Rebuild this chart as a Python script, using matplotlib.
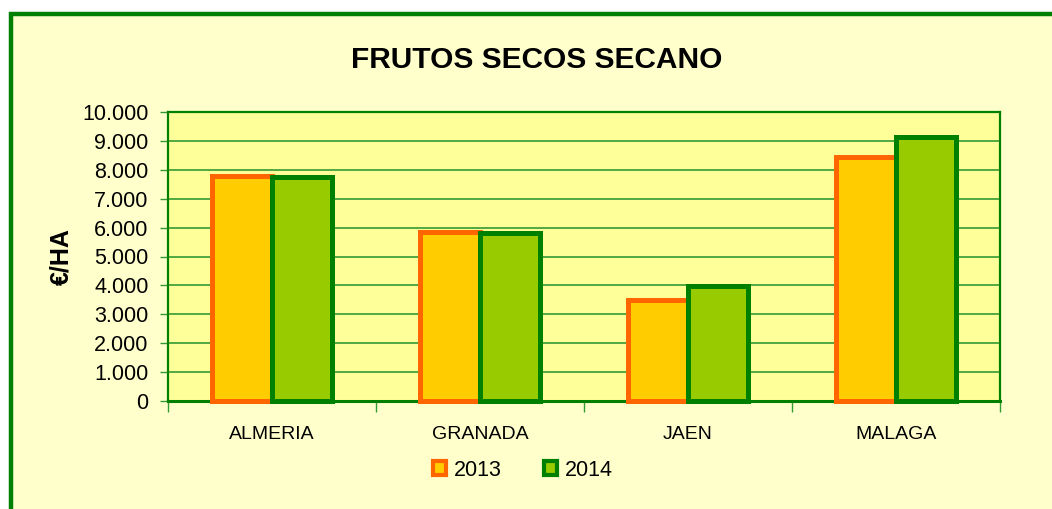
import numpy as np
import matplotlib
matplotlib.use("Agg")
from matplotlib import pyplot as plt
from matplotlib.patches import Rectangle, Patch

plt.rcParams['font.family'] = ['Liberation Sans', 'DejaVu Sans']

# data
provinces = ['ALMERIA', 'GRANADA', 'JAEN', 'MALAGA']
years = ['2013', '2014']
values_2013 = [7770, 5865, 3500, 8450]
values_2014 = [7760, 5815, 3980, 9130]
yticks = np.arange(0, 10001, 1000)

face_colors = ['#FFCC00', '#99CC00']
edge_colors = ['#FF6600', '#008000']

fig = plt.figure(figsize=(10.52, 5.09), dpi=100, facecolor='white')

# outer chart frame (cut at right and bottom like the reference)
frame = Rectangle((10.5 / 1052, -0.05), 1.1, 1 - 14 / 509 + 0.05,
                  transform=fig.transFigure, facecolor='#FFFFCC',
                  edgecolor='#008000', linewidth=3.2, zorder=-10)
fig.patches.append(frame)

ax = fig.add_axes([168 / 1052, 108 / 509, 832 / 1052, 289 / 509])
ax.set_facecolor('#FFFF99')

x = np.arange(len(provinces))
w = 0.2875
for i, vals in enumerate([values_2013, values_2014]):
    ax.bar(x + (i - 0.5) * w, vals, width=w, color=face_colors[i],
           edgecolor=edge_colors[i], linewidth=3.6, zorder=3,
           joinstyle='miter', clip_on=False)

ax.set_xlim(-0.5, len(provinces) - 0.5)
ax.set_ylim(0, 10000)
ax.set_yticks(yticks)
ax.set_yticklabels(['{:,}'.format(v).replace(',', '.') for v in yticks], fontsize=15.5)
ax.yaxis.grid(True, color='#339933', linewidth=1.2, zorder=1)
ax.set_axisbelow(True)

ax.set_xticks(x)
ax.set_xticklabels(provinces, fontsize=14)
ax.set_xticks(np.arange(-0.5, len(provinces)), minor=True)
ax.tick_params(axis='x', which='major', length=0, pad=18)
ax.tick_params(axis='x', which='minor', length=8, width=1, color='#339933', direction='out')
ax.tick_params(axis='y', length=6, width=1, color='#339933', direction='out', pad=8)

for side in ['left', 'right', 'top', 'bottom']:
    ax.spines[side].set_color('#008000')
    ax.spines[side].set_linewidth(1.6)
ax.spines['bottom'].set_linewidth(2.2)

ax.set_ylabel('€/HA', fontsize=18, fontweight='bold', labelpad=6)

fig.text(537 / 1052, 1 - 60 / 509, 'FRUTOS SECOS SECANO', fontsize=21.5,
         fontweight='bold', ha='center', va='center')

handles = [Patch(facecolor=face_colors[i], edgecolor=edge_colors[i], linewidth=3)
           for i in range(2)]
fig.legend(handles, years, loc='center', bbox_to_anchor=(523 / 1052, 1 - 470 / 509),
           ncol=2, frameon=False, fontsize=15.5, handlelength=0.6, handleheight=0.6,
           handletextpad=0.35, columnspacing=2.0)

fig.savefig('out.png', dpi=100, facecolor='white')
